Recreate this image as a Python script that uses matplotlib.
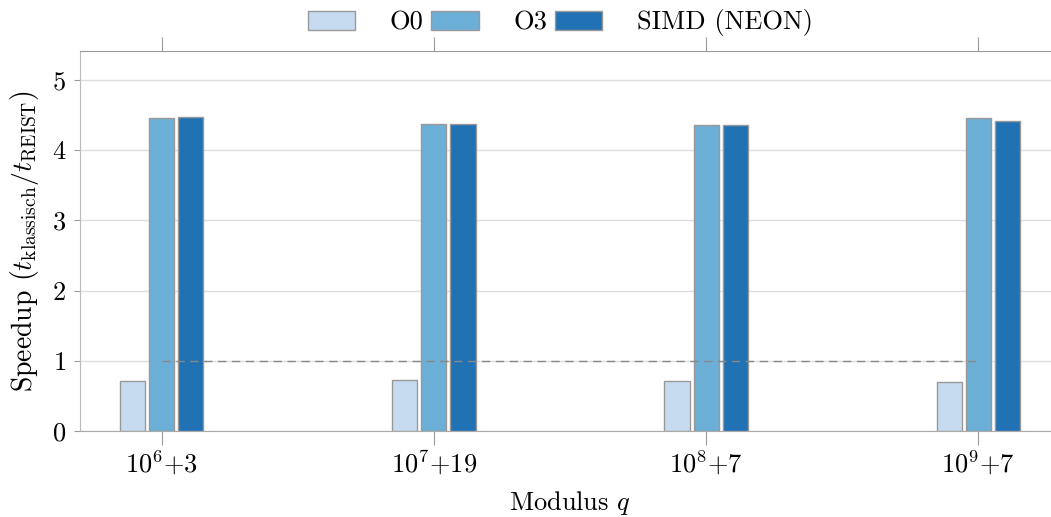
import matplotlib
matplotlib.use('Agg')
import matplotlib.pyplot as plt
import numpy as np

# Data
moduli = [r'$10^{6}{+}3$', r'$10^{7}{+}19$', r'$10^{8}{+}7$', r'$10^{9}{+}7$']
series = ['O0', 'O3', 'SIMD (NEON)']
o0 = [0.71, 0.73, 0.71, 0.70]
o3 = [4.45, 4.37, 4.36, 4.46]
simd = [4.47, 4.37, 4.36, 4.42]
colors = ['#c6dbef', '#6baed6', '#2171b5']
baseline = 1.0

plt.rcParams['font.family'] = ['cmr10', 'DejaVu Serif']
plt.rcParams['mathtext.fontset'] = 'cm'
plt.rcParams['axes.formatter.use_mathtext'] = True
plt.rcParams['font.size'] = 19

fig = plt.figure(figsize=(10.51, 5.17), dpi=100)
ax = fig.add_axes([80 / 1051, 86 / 517, 980 / 1051, 380 / 517])

x = np.arange(len(moduli))
w = 0.092
step = 0.107
for i, (vals, name) in enumerate(zip([o0, o3, simd], series)):
    ax.bar(x + (i - 1) * step, vals, w, color=colors[i], edgecolor='#999999',
           linewidth=1.0, label=name, zorder=2)

ax.hlines(baseline, x[0], x[-1], colors='#888888', linestyles=(0, (6, 4)),
          linewidth=1.0, zorder=3)

ax.set_xlim(-0.3, 3.3)
ax.set_ylim(0, 5.41)
ax.set_xticks(x)
ax.set_xticklabels(moduli)
ax.set_yticks(range(6))
ax.grid(axis='y', color='#dddddd', linewidth=1.0, zorder=0)
ax.set_axisbelow(True)

for s in ['left', 'top', 'bottom', 'right']:
    ax.spines[s].set_color('#999999')
ax.spines['left'].set_color('#bbbbbb')
ax.spines['bottom'].set_color('#aaaaaa')
ax.tick_params(axis='x', direction='out', length=10, color='#999999',
               top=True, labeltop=False, pad=3)
ax.tick_params(axis='y', direction='out', length=4, color='#999999', pad=6)

ax.set_xlabel(r'Modulus $q$', labelpad=8, fontsize=19)
ax.set_ylabel(r'Speedup ($t_{\mathrm{klassisch}}/t_{\mathrm{REIST}}$)',
              labelpad=8, fontsize=20)

ax.legend(loc='lower center', bbox_to_anchor=(0.49, 1.0), ncol=3, frameon=False,
          handlelength=1.8, handleheight=0.75, columnspacing=0.3,
          handletextpad=1.3, borderaxespad=0.15)

fig.savefig('out.png', dpi=100)
